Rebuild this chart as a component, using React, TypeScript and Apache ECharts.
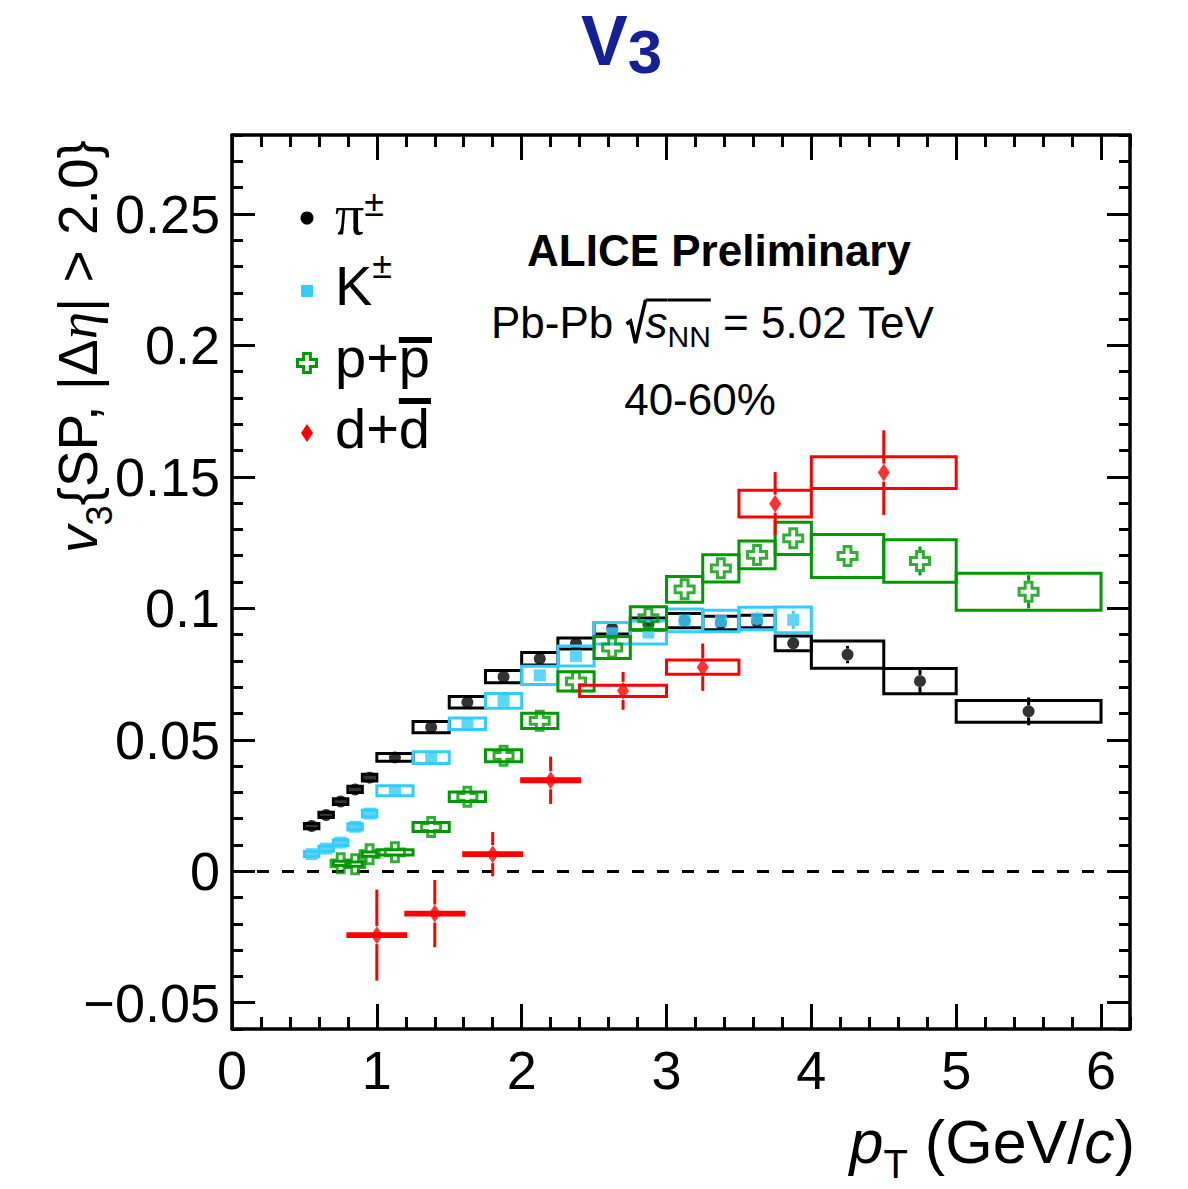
import { useEffect, useRef } from 'react';
import * as echarts from 'echarts';

// ---- axis ranges and tick labels ----
const X_MIN = 0;
const X_MAX = 6.2;
const X_MINOR = 0.2;
const Y_MIN = -0.06;
const Y_MAX = 0.28;
const Y_MINOR = 0.01;
const X_TICKS = [0, 1, 2, 3, 4, 5, 6];
const X_TICK_LABELS = ['0', '1', '2', '3', '4', '5', '6'];
const Y_TICKS = [-0.05, 0, 0.05, 0.1, 0.15, 0.2, 0.25];
const Y_TICK_LABELS = ['\u22120.05', '0', '0.05', '0.1', '0.15', '0.2', '0.25'];

// ---- pi+- ----
const PI_EDGES = [0.5, 0.6, 0.7, 0.8, 0.9, 1.0, 1.25, 1.5, 1.75, 2.0, 2.25, 2.5, 2.75, 3.0, 3.25, 3.5, 3.75, 4.0, 4.5, 5.0, 6.0];
const PI_PT = [0.55, 0.65, 0.75, 0.85, 0.95, 1.125, 1.375, 1.625, 1.875, 2.125, 2.375, 2.625, 2.875, 3.125, 3.375, 3.625, 3.875, 4.25, 4.75, 5.5];
const PI_V3 = [0.0172, 0.0214, 0.0265, 0.0311, 0.0356, 0.0433, 0.0548, 0.0643, 0.074, 0.0808, 0.0866, 0.0924, 0.094, 0.0953, 0.0944, 0.095, 0.0867, 0.0824, 0.0723, 0.0608];
const PI_STAT = [0.0005, 0.0005, 0.0005, 0.0005, 0.0006, 0.0006, 0.0007, 0.0008, 0.0009, 0.001, 0.0011, 0.0012, 0.0014, 0.0016, 0.0018, 0.002, 0.0022, 0.0033, 0.0044, 0.0053];
const PI_SYS = [0.001, 0.001, 0.0011, 0.0012, 0.0013, 0.0015, 0.0021, 0.0022, 0.0023, 0.0024, 0.0021, 0.0022, 0.0023, 0.0027, 0.0026, 0.0024, 0.0028, 0.0052, 0.0048, 0.0041];

// ---- K+- ----
const K_EDGES = [0.5, 0.6, 0.7, 0.8, 0.9, 1.0, 1.25, 1.5, 1.75, 2.0, 2.25, 2.5, 2.75, 3.0, 3.25, 3.5, 3.75, 4.0];
const K_PT = [0.55, 0.65, 0.75, 0.85, 0.95, 1.125, 1.375, 1.625, 1.875, 2.125, 2.375, 2.625, 2.875, 3.125, 3.375, 3.625, 3.875];
const K_V3 = [0.0065, 0.0086, 0.0109, 0.0169, 0.0219, 0.0306, 0.0432, 0.0561, 0.0648, 0.0745, 0.0819, 0.0905, 0.0908, 0.0954, 0.0952, 0.0961, 0.0956];
const K_STAT = [0.0005, 0.0005, 0.0005, 0.0005, 0.0006, 0.0006, 0.0007, 0.0008, 0.0009, 0.001, 0.0012, 0.0014, 0.0016, 0.0019, 0.0022, 0.0026, 0.0034];
const K_SYS = [0.001, 0.001, 0.0011, 0.0012, 0.0013, 0.0019, 0.0022, 0.0022, 0.0028, 0.0035, 0.0038, 0.0041, 0.0044, 0.0043, 0.0041, 0.0043, 0.0049];

// ---- p + pbar ----
const P_EDGES = [0.7, 0.8, 0.9, 1.0, 1.25, 1.5, 1.75, 2.0, 2.25, 2.5, 2.75, 3.0, 3.25, 3.5, 3.75, 4.0, 4.5, 5.0, 6.0];
const P_PT = [0.75, 0.85, 0.95, 1.125, 1.375, 1.625, 1.875, 2.125, 2.375, 2.625, 2.875, 3.125, 3.375, 3.625, 3.875, 4.25, 4.75, 5.5];
const P_V3 = [0.003, 0.0027, 0.0065, 0.0072, 0.0168, 0.0283, 0.0439, 0.0572, 0.0722, 0.0851, 0.0962, 0.1072, 0.1152, 0.1203, 0.1266, 0.1199, 0.118, 0.1063];
const P_STAT = [0.0012, 0.0012, 0.0012, 0.001, 0.001, 0.001, 0.001, 0.0012, 0.0014, 0.0016, 0.0018, 0.002, 0.0022, 0.0025, 0.003, 0.0035, 0.0055, 0.0063];
const P_SYS = [0.0008, 0.0008, 0.0008, 0.001, 0.0017, 0.0018, 0.0023, 0.0029, 0.0037, 0.0042, 0.0044, 0.0049, 0.0052, 0.0053, 0.0061, 0.0082, 0.0081, 0.007];

// ---- d + dbar ----
const D_EDGES = [0.8, 1.2, 1.6, 2.0, 2.4, 3.0, 3.5, 4.0, 5.0];
const D_PT = [1.0, 1.4, 1.8, 2.2, 2.7, 3.25, 3.75, 4.5];
const D_V3 = [-0.0243, -0.0161, 0.0065, 0.0346, 0.0686, 0.0776, 0.1398, 0.1516];
const D_STAT = [0.0173, 0.0128, 0.0084, 0.009, 0.0072, 0.009, 0.012, 0.0161];
const D_SYS = [0.0005, 0.0005, 0.0005, 0.0006, 0.0021, 0.0027, 0.0051, 0.006];

const C_PI = '#000000';
const C_K = '#33ccff';
const C_P = '#009900';
const C_D = '#ff0000';
const C_TITLE = '#151f96';

const SANS = '"Liberation Sans", Arial, Helvetica, sans-serif';
const SERIF = '"Liberation Serif", "Times New Roman", serif';

const CROSS_PATH = 'path://M0 32H32V0H68V32H100V68H68V100H32V68H0Z';

// ---- text layout helpers (sub/superscripts, overlines, radicals) ----
type Seg = {
  t?: string;
  size: number;
  italic?: boolean;
  bold?: boolean;
  serif?: boolean;
  dy?: number;
  bar?: number;
  barW?: number;
  barExtra?: number;
  radical?: number;
};

let measureCtx: CanvasRenderingContext2D | null = null;
const fontOf = (s: Seg) =>
  `${s.italic ? 'italic ' : ''}${s.bold ? 'bold ' : ''}${s.size}px ${s.serif ? SERIF : SANS}`;
const widthOf = (s: Seg) => {
  if (s.radical) return s.radical;
  if (!measureCtx) measureCtx = document.createElement('canvas').getContext('2d');
  measureCtx!.font = fontOf(s);
  return measureCtx!.measureText(s.t || '').width;
};

function richLine(segs: Seg[], x: number, baseline: number, color: string, align: 'left' | 'center' | 'right') {
  const widths = segs.map(widthOf);
  const total = widths.reduce((a, b) => a + b, 0);
  let cx = align === 'center' ? x - total / 2 : align === 'right' ? x - total : x;
  const out: any[] = [];
  segs.forEach((s, i) => {
    const w = widths[i];
    if (s.radical) {
      out.push({
        type: 'polyline',
        shape: {
          points: [
            [cx + 1, baseline - 14],
            [cx + 5, baseline - 17],
            [cx + 10, baseline + 5],
            [cx + w, baseline - 38],
          ],
        },
        style: { stroke: color, lineWidth: 3.5, fill: 'none' },
      });
    } else {
      const by = baseline + (s.dy || 0);
      out.push({
        type: 'text',
        x: cx,
        y: by - 0.3465 * s.size,
        style: {
          text: s.t,
          font: fontOf(s),
          fill: color,
          align: 'left',
          verticalAlign: 'middle',
          textAlign: 'left',
          textVerticalAlign: 'middle',
        },
      });
    }
    if (s.bar !== undefined) {
      const bw = s.barW || 5;
      out.push({
        type: 'rect',
        shape: { x: cx, y: baseline + s.bar - bw / 2, width: w + (s.barExtra || 0), height: bw },
        style: { fill: color },
      });
    }
    cx += w;
  });
  return out;
}

// ---- series builders ----
function boxSeries(name: string, edges: number[], v: number[], sys: number[], color: string, z: number) {
  return {
    type: 'custom',
    name,
    z,
    xAxisIndex: 0,
    yAxisIndex: 0,
    silent: true,
    encode: { x: [0, 1], y: 2 },
    data: v.map((y, i) => [edges[i], edges[i + 1], y, sys[i]]),
    renderItem: (_p: any, api: any) => {
      const a = api.coord([api.value(0), api.value(2) + api.value(3)]);
      const b = api.coord([api.value(1), api.value(2) - api.value(3)]);
      return {
        type: 'rect',
        shape: { x: a[0], y: a[1], width: b[0] - a[0], height: b[1] - a[1] },
        style: { fill: 'none', stroke: color, lineWidth: 3 },
      };
    },
  };
}

function errSeries(name: string, pt: number[], v: number[], err: number[], color: string, half: number, z: number) {
  return {
    type: 'custom',
    name,
    z,
    xAxisIndex: 0,
    yAxisIndex: 0,
    silent: true,
    encode: { x: 0, y: 1 },
    data: v.map((y, i) => [pt[i], y, err[i]]),
    renderItem: (_p: any, api: any) => {
      const x = api.value(0);
      const y = api.value(1);
      const e = api.value(2);
      const top = api.coord([x, y + e]);
      const bot = api.coord([x, y - e]);
      const c = api.coord([x, y]);
      const children: any[] = [];
      if (c[1] - top[1] > half) {
        children.push({
          type: 'line',
          shape: { x1: c[0], y1: top[1], x2: c[0], y2: c[1] - half },
          style: { stroke: color, lineWidth: 3 },
        });
      }
      if (bot[1] - c[1] > half) {
        children.push({
          type: 'line',
          shape: { x1: c[0], y1: c[1] + half, x2: c[0], y2: bot[1] },
          style: { stroke: color, lineWidth: 3 },
        });
      }
      return { type: 'group', children };
    },
  };
}

function markerSeries(name: string, pt: number[], v: number[], symbol: string, size: any, itemStyle: any, z: number, extra: any = {}) {
  return {
    type: 'scatter',
    name,
    z,
    xAxisIndex: 0,
    yAxisIndex: 0,
    silent: true,
    symbol,
    symbolSize: size,
    itemStyle,
    data: v.map((y, i) => [pt[i], y]),
    ...extra,
  };
}

function buildOption() {
  const tickStyle = { color: '#000', width: 3 };
  const lineStyle = { color: '#000', width: 3.5 };
  const xBase = { type: 'value', min: X_MIN, max: X_MAX, splitLine: { show: false } };
  const yBase = { type: 'value', min: Y_MIN, max: Y_MAX, splitLine: { show: false } };
  const xFmt = (val: number) => {
    const i = X_TICKS.findIndex((t) => Math.abs(t - val) < 1e-9);
    return i >= 0 ? X_TICK_LABELS[i] : '';
  };
  const yFmt = (val: number) => {
    const i = Y_TICKS.findIndex((t) => Math.abs(t - val) < 1e-9);
    return i >= 0 ? Y_TICK_LABELS[i] : '';
  };
  const minorX = (position: string) => ({
    ...xBase,
    position,
    interval: X_MINOR,
    axisLine: { show: true, onZero: false, lineStyle },
    axisTick: { show: true, inside: true, length: 12, lineStyle: tickStyle },
    axisLabel: { show: false },
  });
  const majorX = (position: string, labels: boolean) => ({
    ...xBase,
    position,
    axisLine: { show: false, onZero: false },
    axisTick: { show: true, inside: true, length: 25, customValues: X_TICKS, lineStyle: tickStyle },
    axisLabel: {
      show: labels,
      customValues: X_TICKS,
      formatter: xFmt,
      fontSize: 54,
      fontFamily: SANS,
      color: '#000',
      margin: 14,
    },
  });
  const minorY = (position: string) => ({
    ...yBase,
    position,
    interval: Y_MINOR,
    axisLine: { show: true, onZero: false, lineStyle },
    axisTick: { show: true, inside: true, length: 11, lineStyle: tickStyle },
    axisLabel: { show: false },
  });
  const majorY = (position: string, labels: boolean) => ({
    ...yBase,
    position,
    axisLine: { show: false, onZero: false },
    axisTick: { show: true, inside: true, length: 23, customValues: Y_TICKS, lineStyle: tickStyle },
    axisLabel: {
      show: labels,
      customValues: Y_TICKS,
      formatter: yFmt,
      fontSize: 54,
      fontFamily: SANS,
      color: '#000',
      margin: 12,
    },
  });

  const graphic: any[] = [];

  // title
  graphic.push(
    ...richLine(
      [
        { t: 'V', size: 70, bold: true },
        { t: '3', size: 62, bold: true, dy: 8 },
      ],
      581,
      65,
      C_TITLE,
      'left'
    )
  );

  // y-axis title, rotated to read bottom-to-top
  graphic.push({
    type: 'group',
    x: 97,
    y: 553,
    rotation: Math.PI / 2,
    children: richLine(
      [
        { t: 'v', size: 55, italic: true },
        { t: '3', size: 36, dy: 15 },
        { t: '{SP, |\u0394', size: 55 },
        { t: '\u03b7', size: 55, italic: true, serif: true },
        { t: '| > 2.0}', size: 55 },
      ],
      0,
      0,
      '#000',
      'left'
    ),
  });

  // x-axis title
  graphic.push(
    ...richLine(
      [
        { t: 'p', size: 61, italic: true },
        { t: 'T', size: 40, dy: 15 },
        { t: ' (GeV/', size: 61 },
        { t: 'c', size: 61, italic: true },
        { t: ')', size: 61 },
      ],
      1135,
      1163,
      '#000',
      'right'
    )
  );

  // header text
  graphic.push(...richLine([{ t: 'ALICE Preliminary', size: 44, bold: true }], 719, 266, '#000', 'center'));
  graphic.push(
    ...richLine(
      [
        { t: 'Pb-Pb ', size: 44 },
        { size: 44, radical: 20 },
        { t: 's', size: 44, italic: true, bar: -38, barW: 3 },
        { t: 'NN', size: 30, dy: 9, bar: -38, barW: 3 },
        { t: ' = 5.02 TeV', size: 44 },
      ],
      491,
      338,
      '#000',
      'left'
    )
  );
  graphic.push(...richLine([{ t: '40-60%', size: 44 }], 700, 415, '#000', 'center'));

  // legend markers
  const lx = 307;
  graphic.push({ type: 'circle', shape: { cx: lx, cy: 218, r: 6.5 }, style: { fill: C_PI } });
  graphic.push({ type: 'rect', shape: { x: lx - 6, y: 285, width: 12, height: 12 }, style: { fill: C_K } });
  {
    const cy = 363;
    const h = 9.5;
    const a = 3.4;
    graphic.push({
      type: 'polygon',
      shape: {
        points: [
          [lx - h, cy - a], [lx - a, cy - a], [lx - a, cy - h], [lx + a, cy - h], [lx + a, cy - a], [lx + h, cy - a],
          [lx + h, cy + a], [lx + a, cy + a], [lx + a, cy + h], [lx - a, cy + h], [lx - a, cy + a], [lx - h, cy + a],
        ],
      },
      style: { fill: 'none', stroke: C_P, lineWidth: 3 },
    });
  }
  graphic.push({
    type: 'polygon',
    shape: { points: [[lx, 424], [lx + 6, 433], [lx, 442], [lx - 6, 433]] },
    style: { fill: C_D },
  });

  // legend labels
  const tx = 335;
  graphic.push(
    ...richLine(
      [
        { t: '\u03c0', size: 58, serif: true },
        { t: '\u00b1', size: 36, dy: -19 },
      ],
      tx,
      235,
      '#000',
      'left'
    )
  );
  graphic.push(
    ...richLine(
      [
        { t: 'K', size: 56 },
        { t: '\u00b1', size: 36, dy: -27 },
      ],
      tx,
      305,
      '#000',
      'left'
    )
  );
  graphic.push(
    ...richLine(
      [
        { t: 'p+', size: 56 },
        { t: 'p', size: 56, bar: -37, barW: 6, barExtra: 2 },
      ],
      tx,
      377,
      '#000',
      'left'
    )
  );
  graphic.push(
    ...richLine(
      [
        { t: 'd+', size: 56 },
        { t: 'd', size: 56, bar: -47, barW: 6, barExtra: 1 },
      ],
      tx,
      448,
      '#000',
      'left'
    )
  );

  const series: any[] = [
    boxSeries('pi-sys', PI_EDGES, PI_V3, PI_SYS, C_PI, 2),
    errSeries('pi-stat', PI_PT, PI_V3, PI_STAT, C_PI, 6, 3),
    markerSeries('pi', PI_PT, PI_V3, 'circle', 12, { color: C_PI }, 4, {
      markLine: {
        silent: true,
        symbol: ['none', 'none'],
        label: { show: false },
        lineStyle: { color: '#000', width: 3, type: [12, 13] },
        data: [{ yAxis: 0 }],
      },
    }),
    boxSeries('k-sys', K_EDGES, K_V3, K_SYS, C_K, 5),
    errSeries('k-stat', K_PT, K_V3, K_STAT, C_K, 6, 6),
    markerSeries('k', K_PT, K_V3, 'rect', 12, { color: C_K }, 7),
    boxSeries('p-sys', P_EDGES, P_V3, P_SYS, C_P, 8),
    errSeries('p-stat', P_PT, P_V3, P_STAT, C_P, 11, 9),
    markerSeries('p', P_PT, P_V3, CROSS_PATH, 19, { color: 'rgba(255,255,255,0)', borderColor: C_P, borderWidth: 3 }, 10),
    boxSeries('d-sys', D_EDGES, D_V3, D_SYS, C_D, 11),
    errSeries('d-stat', D_PT, D_V3, D_STAT, C_D, 9, 12),
    markerSeries('d', D_PT, D_V3, 'diamond', [12, 18], { color: C_D }, 13),
  ];

  return {
    animation: false,
    backgroundColor: '#ffffff',
    grid: { left: 232, top: 135, width: 898, height: 894, containLabel: false },
    xAxis: [minorX('bottom'), majorX('bottom', true), minorX('top'), majorX('top', false)],
    yAxis: [minorY('left'), majorY('left', true), minorY('right'), majorY('right', false)],
    graphic,
    series,
  };
}

export default function App() {
  const ref = useRef<HTMLDivElement>(null);
  useEffect(() => {
    if (!ref.current) return;
    const chart = echarts.init(ref.current, null, { renderer: 'svg' });
    chart.setOption(buildOption() as any);
    return () => chart.dispose();
  }, []);
  return (
    <div
      ref={ref}
      style={{ position: 'fixed', left: 0, top: 0, width: 1188, height: 1189, background: '#fff' }}
    />
  );
}
